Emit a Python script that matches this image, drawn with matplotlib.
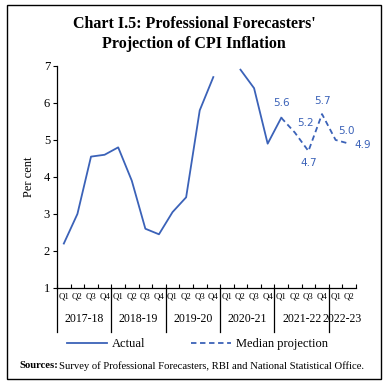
import numpy as np
import matplotlib
matplotlib.use("Agg")
import matplotlib.pyplot as plt
from matplotlib.patches import Rectangle
import matplotlib.transforms as mtransforms

plt.rcParams['font.family'] = ['Liberation Serif', 'DejaVu Serif']

years = ["2017-18", "2018-19", "2019-20", "2020-21", "2021-22", "2022-23"]
quarters = ["Q1", "Q2", "Q3", "Q4"] * 5 + ["Q1", "Q2"]

# actual CPI inflation (Q1 2020-21 not available)
actual = [2.2, 3.0, 4.55, 4.6, 4.8, 3.9, 2.6, 2.45, 3.05, 3.45, 5.8, 6.7,
          np.nan, 6.9, 6.4, 4.9, 5.6]
# median projection from Q1 2021-22 onwards
proj_idx = [16, 17, 18, 19, 20, 21]
projection = [5.6, 5.2, 4.7, 5.7, 5.0, 4.9]
proj_labels = ["5.6", "5.2", "4.7", "5.7", "5.0", "4.9"]

blue = "#3B62B8"

fig = plt.figure(figsize=(3.88, 3.87), dpi=100)
ax = fig.add_axes([0.147, 0.256, 0.7705, 0.5735])

xa = np.arange(len(actual)) + 0.5
ax.plot(xa, actual, color=blue, lw=1.3, label="Actual")
xp = np.array(proj_idx) + 0.5
ax.plot(xp, projection, color=blue, lw=1.3, ls=(0, (3, 2)), label="Median projection")

# point labels
offsets = [(0, 7, 'center', 'bottom'), (2, 3, 'left', 'bottom'),
           (0, -5, 'center', 'top'), (0, 6, 'center', 'bottom'),
           (2, 3, 'left', 'bottom'), (4, -1, 'left', 'center')]
for x, v, t, (dx, dy, ha, va) in zip(xp, projection, proj_labels, offsets):
    ax.annotate(t, (x, v), xytext=(dx, dy), textcoords="offset points",
                ha=ha, va=va, color=blue, fontsize=7.5, family='DejaVu Sans')

ax.set_xlim(0, 22)
ax.set_ylim(1, 7)
ax.set_yticks(range(1, 8))
ax.tick_params(axis='y', labelsize=9, length=3, width=0.8, pad=2)
ax.set_ylabel("Per cent", fontsize=9, labelpad=6)

ax.set_xticks(range(0, 23))
ax.set_xticklabels([])
ax.set_xticks(np.arange(22) + 0.5, minor=True)
ax.set_xticklabels(quarters, minor=True, fontsize=6.3)
ax.tick_params(axis='x', which='major', direction='in', length=3, width=0.8)
ax.tick_params(axis='x', which='minor', length=0, pad=3)

for s in ['top', 'right']:
    ax.spines[s].set_visible(False)
for s in ['left', 'bottom']:
    ax.spines[s].set_linewidth(0.9)

trans = mtransforms.blended_transform_factory(ax.transData, ax.transAxes)
for k in range(6):
    ax.plot([4 * k, 4 * k], [0, -0.2], color='black', lw=0.9,
            transform=trans, clip_on=False)
    ax.text(4 * k + 2 if k < 5 else 21, -0.14, years[k], transform=trans,
            ha='center', va='center', fontsize=8.5)

fig.legend(*ax.get_legend_handles_labels(), loc='upper left',
           bbox_to_anchor=(0.173, 0.126), bbox_transform=fig.transFigure,
           ncol=2, frameon=False, fontsize=9, handlelength=3.2,
           columnspacing=3.6, handletextpad=0.4, borderaxespad=0, borderpad=0)

fig.text(0.5, 0.912, "Chart I.5: Professional Forecasters'\nProjection of CPI Inflation",
         ha='center', va='center', fontsize=11.5, fontweight='bold',
         linespacing=1.3)

src = fig.text(0.049, 0.055, "Sources:", fontsize=7.7, fontweight='bold',
               ha='left', va='center')
fig.canvas.draw()
bb = src.get_window_extent().transformed(fig.transFigure.inverted())
fig.text(bb.x1 + 0.004, 0.055,
         "Survey of Professional Forecasters, RBI and National Statistical Office.",
         fontsize=7.7, ha='left', va='center')

fig.patches.append(Rectangle((0.018, 0.02), 0.964, 0.967, transform=fig.transFigure,
                             fill=False, edgecolor='black', lw=1))

fig.savefig("out.png", dpi=100)
